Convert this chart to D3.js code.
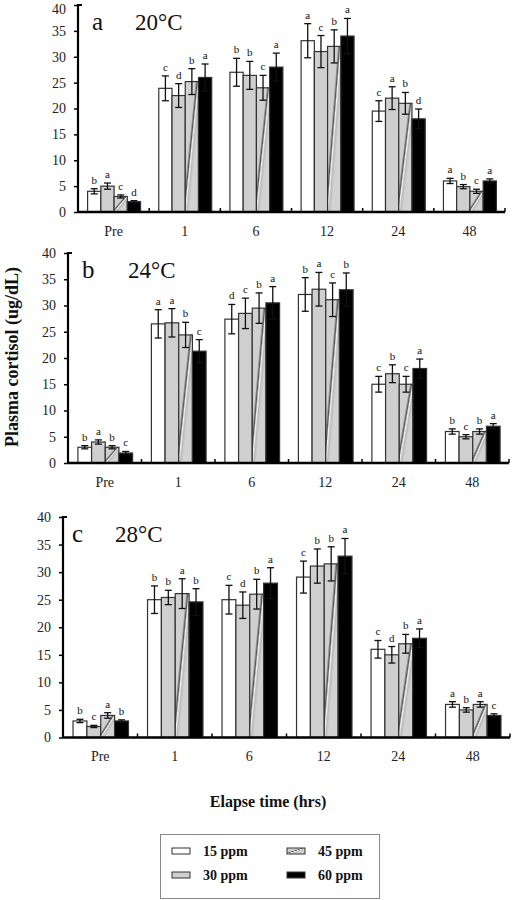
<!DOCTYPE html>
<html><head><meta charset="utf-8">
<script src="https://cdn.jsdelivr.net/npm/d3@7"></script>
<style>body{margin:0;background:#fff}svg{display:block}text{font-family:"Liberation Serif","Times New Roman",serif}</style>
</head><body><svg id="c" width="514" height="900"></svg>
<script>
const categories = ["Pre","1","6","12","24","48"];
const series = ["15 ppm","30 ppm","45 ppm","60 ppm"];
const yTicks = [0,5,10,15,20,25,30,35,40];

// Panel a: 20°C
const a15 = [4, 23.9, 27, 33.1, 19.5, 6];
const a30 = [5, 22.5, 26.4, 31, 22, 4.9];
const a45 = [3, 25.2, 24, 32, 21, 4];
const a60 = [2, 26, 28, 34, 18, 6];
const aErr15 = [0.5, 2.4, 2.7, 3.3, 2.0, 0.5];
const aErr30 = [0.6, 2.3, 2.7, 3.1, 2.2, 0.4];
const aErr45 = [0.3, 2.5, 2.4, 3.2, 2.1, 0.4];
const aErr60 = [0.2, 2.6, 2.7, 3.4, 1.9, 0.4];
const aLet15 = ["b","c","b","a","c","a"];
const aLet30 = ["a","d","b","c","a","b"];
const aLet45 = ["c","b","c","b","b","c"];
const aLet60 = ["d","a","a","a","d","a"];

// Panel b: 24°C
const b15 = [3, 26.5, 27.4, 32.1, 15, 6];
const b30 = [4, 26.7, 28.5, 33.1, 17, 5];
const b45 = [3, 24.4, 29.5, 31.1, 15, 6];
const b60 = [1.9, 21.3, 30.5, 33, 18, 7];
const bErr15 = [0.3, 2.7, 2.8, 3.2, 1.5, 0.5];
const bErr30 = [0.4, 2.7, 2.9, 3.2, 1.7, 0.4];
const bErr45 = [0.3, 2.4, 2.9, 3.2, 1.5, 0.5];
const bErr60 = [0.3, 2.2, 3.1, 3.2, 1.8, 0.5];
const bLet15 = ["b","a","d","b","c","b"];
const bLet30 = ["a","a","c","a","b","c"];
const bLet45 = ["b","b","b","c","c","b"];
const bLet60 = ["c","c","a","b","a","a"];

// Panel c: 28°C
const c15 = [3, 25, 25, 29.1, 16, 6];
const c30 = [2, 25.4, 24, 31.1, 15, 5];
const c45 = [4, 26.1, 26, 31.5, 17, 6];
const c60 = [3, 24.6, 28, 32.9, 18, 4];
const cErr15 = [0.3, 2.5, 2.6, 2.9, 1.6, 0.5];
const cErr30 = [0.2, 1.3, 2.4, 3.1, 1.5, 0.4];
const cErr45 = [0.5, 2.7, 2.7, 3.1, 1.7, 0.5];
const cErr60 = [0.2, 2.4, 2.8, 3.2, 1.7, 0.3];
const cLet15 = ["b","b","c","c","c","a"];
const cLet30 = ["c","b","d","b","d","b"];
const cLet45 = ["a","a","b","b","b","a"];
const cLet60 = ["b","b","a","a","a","c"];

const panels = [
  {label:"a", temp:"20°C", means:[a15,a30,a45,a60], errs:[aErr15,aErr30,aErr45,aErr60], lets:[aLet15,aLet30,aLet45,aLet60],
   x0:78, x1:505, yTop:5, yBot:212},
  {label:"b", temp:"24°C", means:[b15,b30,b45,b60], errs:[bErr15,bErr30,bErr45,bErr60], lets:[bLet15,bLet30,bLet45,bLet60],
   x0:68, x1:509, yTop:253, yBot:463},
  {label:"c", temp:"28°C", means:[c15,c30,c45,c60], errs:[cErr15,cErr30,cErr45,cErr60], lets:[cLet15,cLet30,cLet45,cLet60],
   x0:63, x1:510, yTop:517, yBot:737.5}
];

const svg = d3.select("#c");
const defs = svg.append("defs");
const grad = defs.append("linearGradient").attr("id","hatch")
  .attr("x1",0).attr("y1",0).attr("x2",1).attr("y2",1);
[[0,"#d2d2d2"],[0.38,"#cfcfcf"],[0.45,"#555"],[0.5,"#f2f2f2"],[0.56,"#bbb"],[0.65,"#d2d2d2"],[1,"#d2d2d2"]]
  .forEach(([o,c])=>grad.append("stop").attr("offset",o).attr("stop-color",c));

const fills = ["#ffffff","#cfcfcf","url(#hatch)","#000000"];

panels.forEach((p,pi)=>{
  const g = svg.append("g");
  const x = d3.scaleBand().domain(categories).range([p.x0,p.x1]).padding(0);
  const bw = x.bandwidth();
  const barW = bw*0.186;
  const xs = d3.scaleBand().domain(series).range([(bw-4*barW)/2+0.5,(bw+4*barW)/2+0.5]).padding(0);
  const y = d3.scaleLinear().domain([0,40]).range([p.yBot,p.yTop]);

  series.forEach((s,si)=>{
    categories.forEach((cat,ci)=>{
      const v = p.means[si][ci], e = p.errs[si][ci];
      const bx = x(cat)+xs(s);
      g.append("rect").attr("x",bx).attr("y",y(v)).attr("width",xs.bandwidth()).attr("height",y(0)-y(v))
        .attr("fill",fills[si]).attr("stroke","#333").attr("stroke-width",1.2);
      const cx = bx + xs.bandwidth()/2;
      const cw = 3.5;
      g.append("line").attr("x1",cx).attr("x2",cx).attr("y1",y(v+e)).attr("y2",y(v-e)).attr("stroke","#111").attr("stroke-width",1.3);
      [v+e,v-e].forEach(t=>g.append("line").attr("x1",cx-cw).attr("x2",cx+cw).attr("y1",y(t)).attr("y2",y(t)).attr("stroke","#111").attr("stroke-width",1.3));
      g.append("text").attr("x",cx).attr("y",y(v+e)-5).attr("text-anchor","middle")
        .attr("font-size",11).attr("fill","#111").text(p.lets[si][ci]);
    });
  });

  // y axis
  const ya = d3.axisLeft(y).tickValues(yTicks).tickSize(4).tickPadding(8);
  const yg = g.append("g").attr("transform",`translate(${p.x0},0)`).call(ya);
  yg.select(".domain").attr("stroke","#000").attr("stroke-width",2.2).attr("d",`M4,${p.yTop}H0V${p.yBot}`);
  yg.selectAll(".tick line").attr("stroke","#000").attr("stroke-width",1.5);
  yg.selectAll(".tick text").attr("font-size",14).attr("fill","#222").style("font-family","Liberation Serif");
  if (pi===0) yg.selectAll(".tick text").filter(d=>d===40).attr("dy","0.6em");

  // x axis
  const xa = d3.axisBottom(x).tickSize(0).tickPadding(14);
  const xg = g.append("g").attr("transform",`translate(0,${p.yBot})`).call(xa);
  xg.select(".domain").attr("stroke","#000").attr("stroke-width",2.4).attr("d",`M${p.x0},0H${p.x1}`);
  xg.selectAll(".tick text").attr("font-size",14).attr("fill","#222").style("font-family","Liberation Serif");
  categories.forEach(cat=>{
    const bx = x(cat)+bw;
    g.append("line").attr("x1",bx).attr("x2",bx).attr("y1",p.yBot).attr("y2",p.yBot-4).attr("stroke","#000").attr("stroke-width",1.5);
  });

  // panel label
  g.append("text").attr("x",p.x0+(p.label==="a"?14:p.label==="b"?14:9)).attr("y",p.yTop+25)
    .attr("font-size",25).attr("fill","#111").text(p.label);
  g.append("text").attr("x",p.x0+(p.label==="a"?57:p.label==="b"?60:52)).attr("y",p.yTop+25)
    .attr("font-size",23).attr("fill","#111").text(p.temp);
});

// Axis titles
svg.append("text").attr("transform","translate(18,357) rotate(-90)").attr("text-anchor","middle")
  .attr("font-size",18).attr("font-weight","bold").attr("fill","#111").text("Plasma cortisol (ug/dL)");
svg.append("text").attr("x",268).attr("y",807).attr("text-anchor","middle")
  .attr("font-size",16).attr("font-weight","bold").attr("fill","#111").text("Elapse time (hrs)");

// Legend
const lg = svg.append("g");
lg.append("rect").attr("x",160.5).attr("y",834.5).attr("width",219).attr("height",64).attr("fill","#fff").attr("stroke","#888").attr("stroke-width",1);
const legPos = [[172,851],[172,875],[287,851],[287,875]];
series.forEach((s,i)=>{
  const [lx,ly] = legPos[i];
  lg.append("rect").attr("x",lx).attr("y",ly-3).attr("width",18).attr("height",6)
    .attr("fill",fills[i]).attr("stroke","#333").attr("stroke-width",1);
  lg.append("text").attr("x",lx+31).attr("y",ly+5).attr("font-size",14).attr("font-weight","bold").attr("fill","#111").text(s);
});
</script></body></html>
